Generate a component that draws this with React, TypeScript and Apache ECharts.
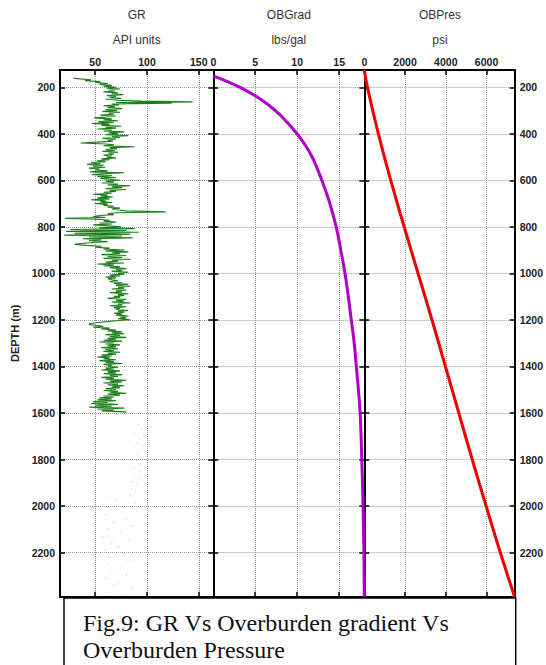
import React, { useEffect, useRef } from "react";
import * as echarts from "echarts";

// ---- data ----
const depthTicks = [200, 400, 600, 800, 1000, 1200, 1400, 1600, 1800, 2000, 2200];
const grTicks = [50, 100, 150];
const gradTicks = [0, 5, 10, 15];
const presTicks = [0, 2000, 4000, 6000];

// [depth m, GR API]
const grLog: number[][] = [
  [160, 29], [163, 35], [167, 46], [171, 40], [175, 55], [179, 50], [183, 62], [187, 54], [191, 66], [195, 58],
  [199, 70], [203, 61], [207, 74], [211, 63], [215, 69], [219, 58], [223, 72], [227, 66], [231, 77], [235, 61],
  [239, 70], [243, 64], [247, 75], [251, 60], [255, 72], [259, 95], [262, 144], [265, 70], [268, 124], [271, 66],
  [275, 73], [279, 58], [283, 69], [287, 62], [291, 76], [295, 60], [299, 71], [303, 57], [307, 74], [311, 63],
  [315, 68], [319, 55], [323, 70], [327, 60], [331, 49], [335, 66], [339, 58], [343, 72], [347, 53], [351, 68],
  [355, 47], [359, 64], [363, 56], [367, 75], [371, 60], [375, 70], [379, 52], [383, 66], [387, 58], [391, 78],
  [395, 63], [399, 72], [403, 60], [407, 82], [411, 66], [415, 74], [419, 57], [423, 70], [427, 62], [431, 67],
  [435, 52], [439, 36], [443, 60], [447, 68], [451, 58], [455, 88], [459, 64], [463, 71], [467, 60], [471, 69],
  [475, 57], [479, 72], [483, 63], [487, 68], [491, 58], [495, 66], [499, 61], [503, 70], [507, 56], [511, 64],
  [515, 52], [519, 60], [523, 46], [527, 55], [531, 42], [535, 58], [539, 48], [543, 60], [547, 44], [551, 54],
  [555, 50], [559, 62], [563, 45], [567, 78], [571, 58], [575, 47], [579, 66], [583, 52], [587, 70], [591, 55],
  [595, 63], [599, 74], [603, 60], [607, 68], [611, 56], [615, 72], [619, 62], [623, 84], [627, 66], [631, 76],
  [635, 60], [639, 80], [643, 64], [647, 70], [651, 58], [655, 66], [659, 48], [663, 62], [667, 55], [671, 67],
  [675, 52], [679, 64], [683, 46], [687, 60], [691, 55], [695, 66], [699, 50], [703, 62], [707, 58], [711, 68],
  [715, 62], [719, 74], [723, 66], [727, 72], [731, 80], [735, 118], [739, 70], [743, 62], [747, 68], [751, 55],
  [755, 48], [759, 60], [763, 21], [767, 52], [771, 64], [775, 58], [779, 70], [783, 54], [787, 66], [791, 48],
  [795, 62], [799, 75], [803, 54], [807, 88], [811, 26], [815, 80], [819, 22], [823, 92], [827, 30], [831, 84],
  [835, 20], [839, 76], [843, 44], [847, 86], [851, 38], [855, 56], [859, 44], [863, 62], [867, 48], [871, 36],
  [875, 30], [879, 42], [883, 56], [887, 50], [891, 64], [895, 58], [899, 78], [903, 60], [907, 82], [911, 66],
  [915, 74], [919, 56], [923, 80], [927, 62], [931, 76], [935, 58], [939, 84], [943, 66], [947, 72], [951, 60],
  [955, 78], [959, 52], [963, 68], [967, 58], [971, 74], [975, 64], [979, 80], [983, 70], [987, 76], [991, 66],
  [995, 82], [999, 72], [1003, 78], [1007, 64], [1011, 74], [1015, 60], [1019, 70], [1023, 62], [1027, 66], [1031, 72],
  [1035, 64], [1039, 76], [1043, 68], [1047, 82], [1051, 70], [1055, 84], [1059, 72], [1063, 78], [1067, 66], [1071, 80],
  [1075, 70], [1079, 76], [1083, 64], [1087, 82], [1091, 72], [1095, 78], [1099, 68], [1103, 74], [1107, 62], [1111, 80],
  [1115, 70], [1119, 78], [1123, 66], [1127, 84], [1131, 72], [1135, 76], [1139, 64], [1143, 80], [1147, 68], [1151, 74],
  [1155, 70], [1159, 82], [1163, 72], [1167, 78], [1171, 68], [1175, 76], [1179, 70], [1183, 82], [1187, 74], [1191, 80],
  [1195, 72], [1199, 84], [1203, 70], [1207, 62], [1211, 52], [1215, 46], [1219, 44], [1223, 50], [1227, 58], [1231, 48],
  [1235, 64], [1239, 56], [1243, 70], [1247, 62], [1251, 76], [1255, 66], [1259, 78], [1263, 60], [1267, 74], [1271, 64],
  [1275, 80], [1279, 62], [1283, 70], [1287, 58], [1291, 76], [1295, 54], [1299, 68], [1303, 60], [1307, 74], [1311, 62],
  [1315, 70], [1319, 56], [1323, 72], [1327, 60], [1331, 68], [1335, 58], [1339, 74], [1343, 62], [1347, 70], [1351, 56],
  [1355, 66], [1359, 52], [1363, 64], [1367, 58], [1371, 70], [1375, 54], [1379, 68], [1383, 60], [1387, 76], [1391, 58],
  [1395, 66], [1399, 62], [1403, 72], [1407, 60], [1411, 68], [1415, 56], [1419, 74], [1423, 62], [1427, 70], [1431, 58],
  [1435, 76], [1439, 64], [1443, 72], [1447, 56], [1451, 68], [1455, 60], [1459, 80], [1463, 64], [1467, 76], [1471, 58],
  [1475, 72], [1479, 62], [1483, 78], [1487, 66], [1491, 74], [1495, 60], [1499, 70], [1503, 58], [1507, 72], [1511, 64],
  [1515, 80], [1519, 62], [1523, 74], [1527, 58], [1531, 68], [1535, 54], [1539, 66], [1543, 52], [1547, 70], [1551, 48],
  [1555, 62], [1559, 46], [1563, 72], [1567, 50], [1571, 66], [1575, 44], [1579, 78], [1583, 52], [1587, 68], [1591, 56],
  [1595, 80], [1598, 79],
];

// faint scattered GR samples below 1600 m: [depth, GR]
const grFaint: number[][] = [
  [1640, 98], [1650, 92], [1660, 104], [1670, 95], [1680, 100], [1690, 88], [1700, 97], [1710, 93], [1720, 102],
  [1730, 90], [1740, 96], [1750, 89], [1760, 94], [1775, 91], [1790, 96], [1805, 90], [1820, 94], [1835, 88],
  [1850, 93], [1865, 87], [1880, 92], [1895, 86], [1910, 90], [1925, 85], [1940, 89], [1955, 84], [1965, 62],
  [1975, 70], [1985, 88], [1995, 58], [2005, 76], [2015, 66], [2025, 90], [2040, 60], [2055, 80], [2070, 68],
  [2085, 86], [2100, 62], [2115, 74], [2130, 58], [2145, 82], [2160, 66], [2175, 72], [2190, 60], [2205, 78],
  [2220, 64], [2235, 84], [2250, 62], [2265, 74], [2280, 66], [2295, 80], [2310, 60], [2325, 72], [2340, 68],
  [2355, 86], [2370, 64], [2380, 76],
];

// [depth m, overburden gradient lbs/gal]
const obGrad: number[][] = [
  [150, 0], [175, 1.7], [200, 3.2], [250, 5.6], [300, 7.4], [350, 8.8], [400, 10.0], [450, 11.0], [500, 11.8],
  [550, 12.4], [600, 12.95], [700, 13.9], [800, 14.65], [900, 15.2], [1000, 15.7], [1100, 16.1], [1200, 16.45],
  [1300, 16.8], [1400, 17.05], [1500, 17.3], [1600, 17.5], [1800, 17.7], [2000, 17.85], [2200, 17.95], [2390, 18.0],
];

// [depth m, overburden pressure psi]
const obPres: number[][] = [
  [125, 0], [200, 156], [400, 692], [600, 1301], [800, 1959], [1000, 2641], [1200, 3324], [1400, 3982],
  [1600, 4640], [1800, 5298], [2000, 5980], [2200, 6677], [2390, 7380],
];

const DEPTH_MIN = 125;
const DEPTH_MAX = 2390;

const FONT = "Liberation Sans, Arial, sans-serif";
const plain = (v: number) => String(v);

function xAx(gridIndex: number, min: number, max: number, ticks: number[], top: boolean) {
  return {
    type: "value",
    gridIndex,
    min,
    max,
    position: top ? "top" : "bottom",
    axisLine: { show: true, onZero: false, lineStyle: { color: "#000", width: 2 } },
    axisTick: { show: true, inside: true, length: 5, lineStyle: { color: "#000", width: 1.5 }, customValues: ticks },
    axisLabel: {
      show: top,
      customValues: ticks,
      formatter: plain,
      margin: 3,
      fontSize: 10.5,
      fontWeight: "bold",
      color: "#222",
      fontFamily: FONT,
    },
    splitLine: { show: top, lineStyle: { color: "#999", type: "dotted", width: 1 } },
  };
}

function yAx(gridIndex: number, left: boolean, labels: boolean, split: boolean, extra: any = {}) {
  return {
    type: "value",
    gridIndex,
    min: DEPTH_MIN,
    max: DEPTH_MAX,
    inverse: true,
    position: left ? "left" : "right",
    axisLine: { show: true, onZero: false, lineStyle: { color: "#000", width: 2 } },
    axisTick: { show: true, inside: true, length: 5, lineStyle: { color: "#000", width: 1.5 }, customValues: depthTicks },
    axisLabel: {
      show: labels,
      customValues: depthTicks,
      formatter: plain,
      margin: 5,
      fontSize: 10.5,
      fontWeight: "bold",
      color: "#222",
      fontFamily: FONT,
    },
    splitLine: { show: split, lineStyle: { color: "#999", type: "dotted", width: 1 } },
    ...extra,
  };
}

const G0 = 60, G1 = 213.3, G2 = 364.3, GR_END = 515.7;
const TOP = 70, H = 526.7;
const SERIF = "Liberation Serif, Times New Roman, serif";

export default function App() {
  const ref = useRef<HTMLDivElement>(null);
  useEffect(() => {
    if (!ref.current) return;
    const chart = echarts.init(ref.current, null, { renderer: "svg" });
    const headText = (x: number, y: number, t: string) => ({
      type: "text",
      x,
      y,
      style: { text: t, fontSize: 12, fontFamily: FONT, fill: "#333", align: "center", verticalAlign: "middle" },
    });
    chart.setOption({
      animation: false,
      backgroundColor: "#fff",
      grid: [
        { left: G0, top: TOP, width: G1 - G0, height: H },
        { left: G1, top: TOP, width: G2 - G1, height: H },
        { left: G2, top: TOP, width: GR_END - G2, height: H },
      ],
      xAxis: [
        xAx(0, 16, 164, grTicks, true),
        xAx(1, 0, 18, gradTicks, true),
        xAx(2, 0, 7380, presTicks, true),
        xAx(0, 16, 164, grTicks, false),
        xAx(1, 0, 18, gradTicks, false),
        xAx(2, 0, 7380, presTicks, false),
      ],
      yAxis: [
        yAx(0, true, true, true, {
          name: "DEPTH (m)",
          nameLocation: "middle",
          nameGap: 40,
          nameRotate: 90,
          nameTextStyle: { fontSize: 11, fontWeight: "bold", color: "#222", fontFamily: FONT },
        }),
        yAx(0, false, false, false),
        yAx(1, true, false, true),
        yAx(1, false, false, false),
        yAx(2, true, false, true),
        yAx(2, false, true, false),
      ],
      series: [
        {
          type: "scatter",
          xAxisIndex: 0,
          yAxisIndex: 0,
          symbolSize: 1.6,
          itemStyle: { color: "rgba(165,200,165,0.55)" },
          data: grFaint.map((d) => [d[1], d[0]]),
        },
        {
          type: "line",
          xAxisIndex: 0,
          yAxisIndex: 0,
          symbol: "none",
          lineStyle: { color: "#1b7f1b", width: 1.1 },
          data: grLog.map((d) => [d[1], d[0]]),
        },
        {
          type: "line",
          xAxisIndex: 1,
          yAxisIndex: 2,
          symbol: "none",
          smooth: true,
          lineStyle: { color: "#b000c8", width: 3 },
          data: obGrad.map((d) => [d[1], d[0]]),
        },
        {
          type: "line",
          xAxisIndex: 2,
          yAxisIndex: 4,
          symbol: "none",
          smooth: true,
          lineStyle: { color: "#ee0000", width: 3 },
          data: obPres.map((d) => [d[1], d[0]]),
        },
      ],
      graphic: [
        headText((G0 + G1) / 2, 15, "GR"),
        headText((G0 + G1) / 2, 40, "API units"),
        headText((G1 + G2) / 2, 15, "OBGrad"),
        headText((G1 + G2) / 2, 40, "lbs/gal"),
        headText((G2 + GR_END) / 2, 15, "OBPres"),
        headText((G2 + GR_END) / 2, 40, "psi"),
        {
          type: "rect",
          shape: { x: 64, y: 598, width: GR_END - 64, height: 90 },
          style: { fill: "#fff", stroke: "#000", lineWidth: 1.5 },
        },
        {
          type: "text",
          x: 83,
          y: 623,
          style: { text: "Fig.9: GR Vs Overburden gradient Vs", fontSize: 24, fontFamily: SERIF, fill: "#111", verticalAlign: "middle" },
        },
        {
          type: "text",
          x: 83,
          y: 650,
          style: { text: "Overburden Pressure", fontSize: 24, fontFamily: SERIF, fill: "#111", verticalAlign: "middle" },
        },
      ],
    });
    return () => chart.dispose();
  }, []);
  return (
    <div
      ref={ref}
      style={{ position: "fixed", left: 0, top: 0, width: 546, height: 665, background: "#fff" }}
    />
  );
}
